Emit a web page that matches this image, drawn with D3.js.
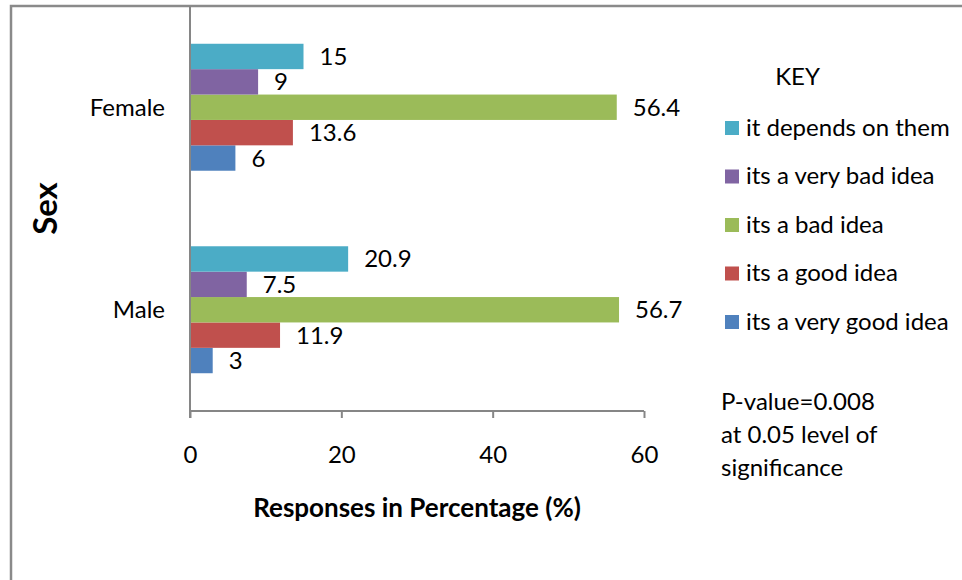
<!DOCTYPE html>
<html>
<head>
<meta charset="utf-8">
<script src="https://cdn.jsdelivr.net/npm/d3@7"></script>
<style>
  html, body { margin: 0; padding: 0; background: #fff; }
  svg { display: block; font-family: Lato, "Open Sans", sans-serif; }
</style>
</head>
<body>
<svg id="chart" width="962" height="580"></svg>
<script>
// ---- data ----
const categories = ["Female", "Male"];
const seriesNames = ["its a very good idea", "its a good idea", "its a bad idea", "its a very bad idea", "it depends on them"];
const femaleValues = [6, 13.6, 56.4, 9, 15];
const maleValues = [3, 11.9, 56.7, 7.5, 20.9];
const seriesColors = ["#4F81BD", "#C0504D", "#9BBB59", "#8064A2", "#4BACC6"];
const xTicks = [0, 20, 40, 60];
const legendTitle = "KEY";
const noteLines = ["P-value=0.008", "at 0.05 level of", "significance"];
const xTitle = "Responses in Percentage (%)";
const yTitle = "Sex";

const valuesByCategory = { "Female": femaleValues, "Male": maleValues };

const svg = d3.select("#chart");

// outer frame (right/bottom edges fall outside the picture)
svg.append("rect")
  .attr("x", 11).attr("y", 6)
  .attr("width", 1000).attr("height", 700)
  .attr("fill", "none").attr("stroke", "#8a8a8a").attr("stroke-width", 2.5);

const plot = { left: 190, right: 644, top: 6, bottom: 411 };

const x = d3.scaleLinear().domain([0, 60]).range([plot.left, plot.right]);
const y = d3.scaleBand().domain(categories).range([plot.top, plot.bottom])
  .paddingInner(0.373).paddingOuter(0.1865);
// top to bottom order inside a group: reversed series order
const yInner = d3.scaleBand().domain(seriesNames.slice().reverse()).range([0, y.bandwidth()]);

const rows = [];
categories.forEach(c => {
  seriesNames.forEach((s, i) => {
    rows.push({ cat: c, series: s, value: valuesByCategory[c][i], color: seriesColors[i] });
  });
});

// bars
svg.append("g").selectAll("rect").data(rows).join("rect")
  .attr("x", x(0))
  .attr("y", d => y(d.cat) + yInner(d.series))
  .attr("width", d => x(d.value) - x(0))
  .attr("height", yInner.bandwidth())
  .attr("fill", d => d.color);

// value labels
svg.append("g").selectAll("text").data(rows).join("text")
  .attr("x", d => x(d.value) + 16)
  .attr("y", d => y(d.cat) + yInner(d.series) + yInner.bandwidth() / 2 + 8.5)
  .attr("font-size", 24).attr("fill", "#000")
  .text(d => d.value);

// x axis
const xAxis = d3.axisBottom(x).tickValues(xTicks).tickSize(7).tickFormat(d3.format("d"));
const gx = svg.append("g").attr("transform", `translate(0,${plot.bottom})`).call(xAxis);
gx.select(".domain").attr("stroke", "#868686").attr("stroke-width", 2).attr("d", `M${plot.left},0H${plot.right}`);
gx.selectAll(".tick line").attr("stroke", "#868686").attr("stroke-width", 2);
gx.selectAll(".tick text").attr("font-size", 24).attr("font-family", "Lato").attr("fill", "#000").attr("y", 52).attr("dy", 0);

// y axis
const yAxis = d3.axisLeft(y).tickSize(0).tickPadding(25);
const gy = svg.append("g").attr("transform", `translate(${plot.left},0)`).call(yAxis);
gy.select(".domain").attr("stroke", "#868686").attr("stroke-width", 2).attr("d", `M0,${plot.top}V${plot.bottom + 7}`);
gy.selectAll(".tick text").attr("font-size", 24).attr("font-family", "Lato").attr("fill", "#000").attr("dy", 8.5);

// axis titles
svg.append("text")
  .attr("x", (plot.left + plot.right) / 2).attr("y", 517)
  .attr("text-anchor", "middle").attr("font-size", 26).attr("font-weight", "bold")
  .text(xTitle);

svg.append("text")
  .attr("transform", `translate(57,${(plot.top + plot.bottom) / 2}) rotate(-90)`)
  .attr("text-anchor", "middle").attr("font-size", 33).attr("font-weight", "bold")
  .text(yTitle);

// legend
svg.append("text").attr("x", 797.5).attr("y", 85).attr("text-anchor", "middle")
  .attr("font-size", 24).text(legendTitle);

const legendOrder = seriesNames.map((s, i) => ({ name: s, color: seriesColors[i] })).reverse();
const lg = svg.append("g").selectAll("g").data(legendOrder).join("g")
  .attr("transform", (d, i) => `translate(725,${121 + i * 48.5})`);
lg.append("rect").attr("width", 14).attr("height", 14).attr("fill", d => d.color);
lg.append("text").attr("x", 21).attr("y", 14.5).attr("font-size", 24).text(d => d.name);

// note
svg.append("g").selectAll("text").data(noteLines).join("text")
  .attr("x", 721).attr("y", (d, i) => 410 + i * 33)
  .attr("font-size", 24).text(d => d);
</script>
</body>
</html>
